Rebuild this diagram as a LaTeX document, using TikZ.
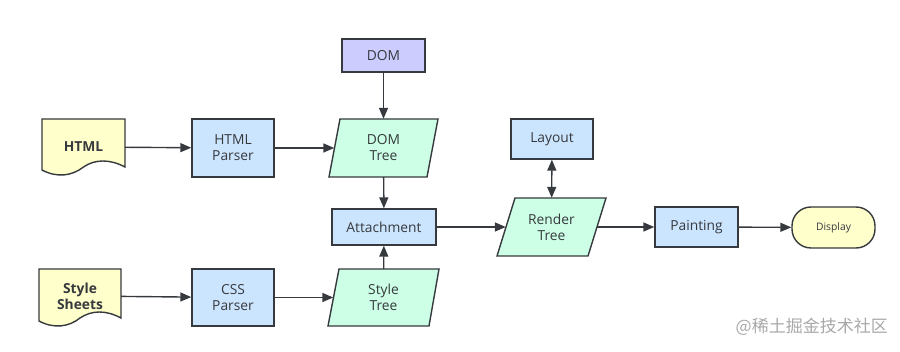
\documentclass[tikz,border=0pt]{standalone}
\usepackage{fontspec}
\setmainfont{Open Sans}
\newfontfamily\cjk{Noto Sans CJK SC}
\usetikzlibrary{arrows.meta,calc}
\definecolor{bluefill}{HTML}{CCE5FF}
\definecolor{treefill}{HTML}{CCFFE6}
\definecolor{domfill}{HTML}{CCCCFF}
\definecolor{yelfill}{HTML}{FFFFCC}
\definecolor{edge}{HTML}{36393D}
\definecolor{wm}{HTML}{A8A8A8}
\begin{document}
\begin{tikzpicture}[x=1pt,y=-1pt,
  every node/.style={font=\fontsize{13.8}{16}\selectfont, text=edge, align=center, inner sep=0pt},
  proc/.style={draw=edge, line width=1.4pt, fill=bluefill, rectangle},
  domstyle/.style={proc, fill=domfill},
  plain/.style={rectangle},
  boldtext/.style={font=\fontsize{13.8}{16}\selectfont\bfseries},
  term/.style={draw=edge, line width=1.4pt, fill=yelfill, rounded corners=19pt},
  shapeline/.style={draw=edge, line width=1.4pt},
  conn/.style={draw=edge, line width=1.4pt, -{Triangle[length=11pt,width=9pt]}},
  bconn/.style={draw=edge, line width=1.4pt, {Triangle[length=11pt,width=9pt]}-{Triangle[length=11pt,width=9pt]}}
]
\useasboundingbox (0,0) rectangle (900,352);

% document shapes
\path[shapeline, fill=yelfill] (42,119) -- (125,119) -- (125,167)
  .. controls (110,159) and (95,159) .. (83.5,167)
  .. controls (72,176) and (57,178) .. (42,170) -- cycle;
\path[shapeline, fill=yelfill] (39,269) -- (121,269) -- (121,318)
  .. controls (106,310) and (92,310) .. (80,318)
  .. controls (69,327) and (54,329) .. (39,321) -- cycle;
\node[plain, boldtext, minimum width=83, minimum height=56] (html) at (83.5,147) {HTML};
\node[plain, boldtext, minimum width=82, minimum height=56] (css) at (80,296) {Style\\Sheets};

% processes
\node[proc, minimum width=82, minimum height=58] (hparser) at (233,148) {HTML\\Parser};
\node[proc, minimum width=82, minimum height=57] (cparser) at (233,297.5) {CSS\\Parser};
\node[domstyle, minimum width=83, minimum height=33] (dom) at (383.5,55.5) {DOM};
\node[proc, minimum width=104, minimum height=36] (attach) at (384,227) {Attachment};
\node[proc, minimum width=82, minimum height=40] (layout) at (552,139) {Layout};
\node[proc, minimum width=83, minimum height=40] (paint) at (696.5,227) {Painting};
\node[term, minimum width=83, minimum height=41, font=\fontsize{10.3}{12}\selectfont] (display) at (833.5,227.5) {Display};

% parallelograms (trees)
\path[shapeline, fill=treefill] (340,119) -- (438,119) -- (427,177) -- (329,177) -- cycle;
\node[plain, minimum width=98, minimum height=58] (domtree) at (383.5,148) {DOM\\Tree};
\path[shapeline, fill=treefill] (339,269) -- (439,269) -- (429,326) -- (328,326) -- cycle;
\node[plain, minimum width=100, minimum height=57] (styletree) at (383.5,297.5) {Style\\Tree};
\path[shapeline, fill=treefill] (515,198) -- (606,198) -- (588,256) -- (497,256) -- cycle;
\node[plain, minimum width=91, minimum height=58] (render) at (551.5,227) {Render\\Tree};

% connectors
\draw[conn] (html) -- (hparser);
\draw[conn] (hparser) -- (domtree);
\draw[conn] (css) -- (cparser);
\draw[conn] (cparser) -- (styletree);
\draw[conn] (dom) -- (domtree);
\draw[conn] (domtree) -- (attach);
\draw[conn] (styletree) -- (attach);
\draw[conn] (attach) -- (render);
\draw[bconn] (layout) -- (render);
\draw[conn] (render) -- (paint);
\draw[conn] (paint) -- (display);

% watermark
\node[font=\cjk\fontsize{17}{20}\selectfont, text=wm, anchor=east] (wmark) at (888,327) {@稀土掘金技术社区};
\end{tikzpicture}
\end{document}
